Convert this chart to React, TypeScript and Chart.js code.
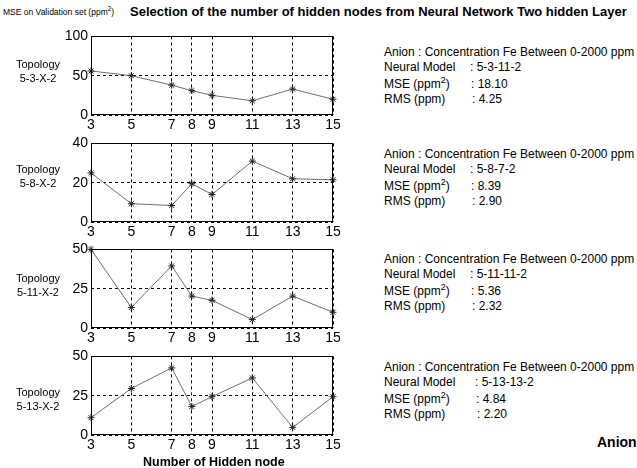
import React, { useEffect, useRef } from "react";
import { Chart, registerables } from "chart.js";

Chart.register(...registerables);

// Number of hidden nodes tried in the second hidden layer
const hiddenNodes = [3, 5, 7, 8, 9, 11, 13, 15];

// MSE on the validation set (ppm^2) for each first-layer topology
const mseTopo53 = [56, 50, 38, 31, 25, 18.1, 33, 20];
const mseTopo58 = [25, 9.3, 8.39, 19.5, 14, 31, 22, 21.5];
const mseTopo511 = [50, 13, 39.5, 20.3, 17.6, 5.36, 20.3, 10];
const mseTopo513 = [11, 29.6, 42.7, 18.1, 24.4, 36.3, 4.84, 24.4];

// Y tick values for each panel
const yTicks53 = [0, 50, 100];
const yTicks58 = [0, 20, 40];
const yTicks511 = [0, 25, 50];
const yTicks513 = [0, 25, 50];

const topologyNames = ["5-3-X-2", "5-8-X-2", "5-11-X-2", "5-13-X-2"];
const bestModels = ["5-3-11-2", "5-8-7-2", "5-11-11-2", "5-13-13-2"];
const bestMse = ["18.10", "8.39", "5.36", "4.84"];
const bestRms = ["4.25", "2.90", "2.32", "2.20"];

const TICK_FONT = "'Liberation Sans Narrow', 'Arial Narrow', 'Liberation Sans', Arial, sans-serif";
const TEXT_FONT = "'Liberation Sans', Arial, Helvetica, sans-serif";

// Solid frame around each plot area
const boxPlugin = {
  id: "plotBox",
  afterDraw(chart: any) {
    const { ctx, chartArea } = chart;
    const l = Math.round(chartArea.left) + 0.5;
    const t = Math.round(chartArea.top) + 0.5;
    const r = Math.round(chartArea.right) - 0.5;
    const b = Math.round(chartArea.bottom) - 0.5;
    ctx.save();
    ctx.strokeStyle = "#000";
    ctx.lineWidth = 1;
    ctx.setLineDash([]);
    ctx.strokeRect(l, t, r - l, b - t);
    ctx.restore();
  },
};

const CANVAS_W = 345;
const CANVAS_H = 112;

function Panel(props: { values: number[]; ticks: number[]; top: number }) {
  const ref = useRef<HTMLCanvasElement | null>(null);
  useEffect(() => {
    if (!ref.current) return;
    const yMax = props.ticks[props.ticks.length - 1];
    const chart = new Chart(ref.current, {
      type: "line",
      data: {
        datasets: [
          {
            data: hiddenNodes.map((x, i) => ({ x, y: props.values[i] })),
            borderColor: "#6e6e6e",
            borderWidth: 1,
            pointStyle: "star",
            pointRadius: 3.5,
            pointBorderColor: "#222",
            pointBorderWidth: 1,
            pointBackgroundColor: "#222",
            tension: 0,
            clip: false as any,
          },
        ],
      },
      plugins: [boxPlugin],
      options: {
        animation: false,
        responsive: false,
        devicePixelRatio: 1,
        events: [],
        layout: { padding: { top: 10, right: 12, left: 0, bottom: 0 } },
        plugins: { legend: { display: false }, tooltip: { enabled: false } },
        scales: {
          x: {
            type: "linear",
            min: 3,
            max: 15,
            afterBuildTicks: (scale: any) => {
              scale.ticks = hiddenNodes.map((v) => ({ value: v }));
            },
            afterFit: (scale: any) => {
              scale.height = 22;
            },
            grid: { color: "#000", lineWidth: 1, drawTicks: false },
            border: { display: false, dash: [3, 3] },
            ticks: {
              color: "#000",
              font: { family: TICK_FONT, size: 14 },
              padding: 2,
              autoSkip: false,
              maxRotation: 0,
            },
          },
          y: {
            min: 0,
            max: yMax,
            afterBuildTicks: (scale: any) => {
              scale.ticks = props.ticks.map((v) => ({ value: v }));
            },
            afterFit: (scale: any) => {
              scale.width = 91;
            },
            grid: { color: "#000", lineWidth: 1, drawTicks: false },
            border: { display: false, dash: [3, 3] },
            ticks: {
              color: "#000",
              font: { family: TICK_FONT, size: 14 },
              padding: 3,
            },
          },
        },
      },
    });
    return () => chart.destroy();
  }, []);
  return (
    <canvas
      ref={ref}
      width={CANVAS_W}
      height={CANVAS_H}
      style={{ position: "absolute", left: 0, top: props.top - 10, width: CANVAS_W, height: CANVAS_H }}
    />
  );
}

const panelTops = [35, 142, 248, 355];
const panelValues = [mseTopo53, mseTopo58, mseTopo511, mseTopo513];
const panelTicks = [yTicks53, yTicks58, yTicks511, yTicks513];
const topoLabelY = [64, 169, 278, 392];
const infoY = [52, 154, 259, 367];
const infoValueX = [470, 470, 470, 475];

function InfoBlock(props: { i: number }) {
  const { i } = props;
  const y = infoY[i];
  const vx = infoValueX[i];
  const line: React.CSSProperties = { position: "absolute", whiteSpace: "nowrap", lineHeight: "14px" };
  return (
    <>
      <div style={{ ...line, left: 384, top: y - 7 }}>Anion : Concentration Fe Between 0-2000 ppm</div>
      <div style={{ ...line, left: 384, top: y + 8 }}>Neural Model</div>
      <div style={{ ...line, left: vx, top: y + 8 }}>: {bestModels[i]}</div>
      <div style={{ ...line, left: 384, top: y + 25 }}>
        MSE (ppm<sup style={{ fontSize: 9, verticalAlign: 5, lineHeight: 0 }}>2</sup>)
      </div>
      <div style={{ ...line, left: vx + 1, top: y + 25 }}>: {bestMse[i]}</div>
      <div style={{ ...line, left: 384, top: y + 40 }}>RMS (ppm)</div>
      <div style={{ ...line, left: vx + 2, top: y + 40 }}>: {bestRms[i]}</div>
    </>
  );
}

export default function App() {
  return (
    <div
      style={{
        position: "absolute",
        left: 0,
        top: 0,
        width: 637,
        height: 468,
        overflow: "hidden",
        background: "#fff",
        fontFamily: TEXT_FONT,
        fontSize: 12,
        color: "#000",
      }}
    >
      <div style={{ position: "absolute", left: 3, top: 7, fontSize: 8.5, fontFamily: TICK_FONT, whiteSpace: "nowrap" }}>
        MSE on Validation set (ppm<sup style={{ fontSize: 6.5, verticalAlign: 4, lineHeight: 0 }}>2</sup>)
      </div>
      <div
        style={{
          position: "absolute",
          left: 130,
          top: 4,
          fontSize: 13,
          fontWeight: "bold",
          fontFamily: TICK_FONT,
          whiteSpace: "nowrap",
        }}
      >
        Selection of the number of hidden nodes from Neural Network Two hidden Layer
      </div>
      {panelTops.map((t, i) => (
        <Panel key={i} values={panelValues[i]} ticks={panelTicks[i]} top={t} />
      ))}
      {topologyNames.map((name, i) => (
        <div
          key={"t" + i}
          style={{
            position: "absolute",
            left: 8,
            width: 60,
            top: topoLabelY[i] - 7,
            textAlign: "center",
            fontSize: 11,
            fontFamily: TICK_FONT,
            lineHeight: "14px",
          }}
        >
          Topology
          <br />
          {name}
        </div>
      ))}
      {[0, 1, 2, 3].map((i) => (
        <InfoBlock key={"b" + i} i={i} />
      ))}
      <div
        style={{
          position: "absolute",
          left: 143,
          top: 455,
          fontSize: 12.5,
          fontWeight: "bold",
          fontFamily: TICK_FONT,
          whiteSpace: "nowrap",
        }}
      >
        Number of Hidden node
      </div>
      <div style={{ position: "absolute", left: 597, top: 434, fontSize: 14, fontWeight: "bold", whiteSpace: "nowrap" }}>
        Anion
      </div>
    </div>
  );
}
